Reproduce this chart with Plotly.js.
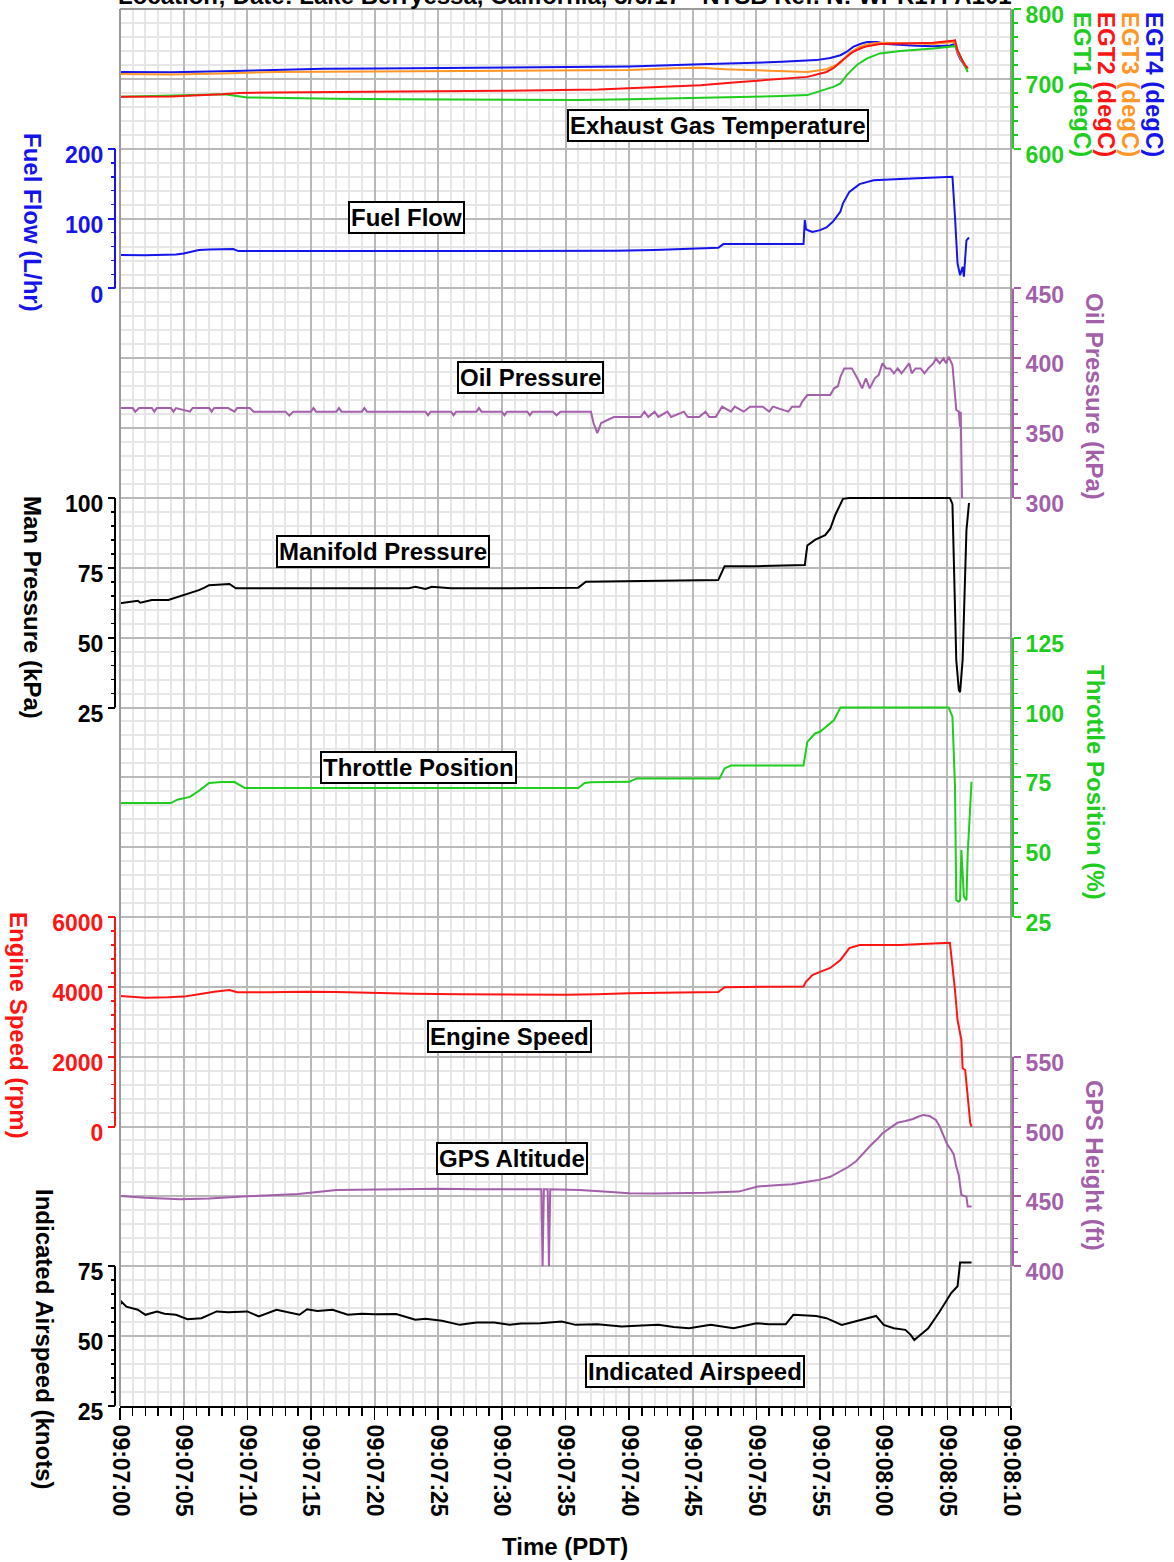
<!DOCTYPE html>
<html>
<head>
<meta charset="utf-8">
<script src="https://cdn.plot.ly/plotly-3.0.1.min.js"></script>
<style>html,body{margin:0;padding:0;background:#fff;}#chart{width:1174px;height:1562px;}</style>
</head>
<body>
<div id="chart"></div>
<script>
// ---------------- DATA (time in seconds after 09:07:00 PDT) ----------------
const timeTickLabels = ["09:07:00","09:07:05","09:07:10","09:07:15","09:07:20","09:07:25","09:07:30","09:07:35","09:07:40","09:07:45","09:07:50","09:07:55","09:08:00","09:08:05","09:08:10"];

const egt4T = [0,4,8,12,16,20,25,30,35,40,45.6,49,52,54.7,55.8,56.6,57.1,57.6,58.2,58.7,59.5,60.2,61.3,62.6,63.9,65.2,65.6,65.8,66.0,66.2,66.4,66.6];
const egt4V = [710,709.5,711,713,714.5,715,715.5,716,717,718,721,722.5,724.5,727,730,734,739,746,750.5,752.8,753,750,748.5,747.5,747,748,750,737,729,723,718,714];

const egt3T = [0,4,8,12,16,20,25,30,35,40,43.5,45.6,47.5,49.5,52,54,55.5,56.6,57.3,58.1,58.6,59.2,60.2,61.5,62.6,63.9,65.4,65.6,65.8,66.0,66.2,66.4,66.6];
const egt3V = [707,706.5,708,710,710.5,711,711,711.5,712,712.7,715.5,716,714,712.7,711,710,714,722.7,737,746,749,751,751.8,751.5,751,750,752.8,752,738,730,724,719,714];

const egt2T = [0,4,8,9.4,12,16,20,25.8,30,37.6,42,45.6,48.2,50.8,54,55.5,56.1,56.6,57.1,57.6,58.2,58.7,59.7,61.3,63.9,65.4,65.6,65.8,66.0,66.2,66.4,66.6];
const egt2V = [674.4,675,678,680,680.5,681,681,681.6,683,685,688,691,695,698.4,703,710,716,724.6,732,739,744,747,750,751,751.8,754.6,755.6,741,732,725.6,720,715.5];

const egt1T = [0,3,7,8.2,10,13,17,22,27,31.7,36,40,43.5,46,49.4,52,54,55.5,56.1,56.6,57.1,57.5,57.9,58.3,58.7,59.7,61.3,63.9,65.4,65.6,65.8,66.0,66.3,66.6];
const egt1V = [674.4,675.5,678,678,673.6,672.5,671.6,671,670.5,669.7,670,671,672,673,674.4,675.5,676.9,685,689,693.6,705.5,713,720,725,729.4,736.6,740,743.7,746,747,741,734,722,710];

const fuelT = [0,2,4.4,5,6.2,7,8.9,9.3,12,15,18,21,24,27,30,33,36,39,42,45,46.5,47,47.4,49,51,53.7,53.8,53.9,54.1,54.4,55,55.5,56,56.6,56.8,57.3,58.1,59.2,61.3,63.9,65.4,65.6,65.8,66.0,66.2,66.3,66.5,66.7];
const fuelV = [47.8,47.5,48.5,50,55,56,56.4,53.5,53.5,53.8,53.5,53.5,53.8,53.5,53.5,53.5,53.5,54,55,56.5,58.3,58.3,63.6,63.6,63.8,63.6,98,84.6,83,81,83.6,87.5,95.5,110,122,138.4,149.5,155,156.6,158.5,160,102.7,36,19,31,17,69,73];

const oilT = [0,1,1.2,1.5,2.5,2.7,2.9,4,4.2,4.4,5.5,5.7,7,7.2,7.4,8.5,9,9.2,10.2,10.5,13,13.3,13.6,15,15.2,15.4,17,17.2,17.4,19,19.2,19.4,22,24,24.2,24.4,26,26.2,26.4,28,28.2,28.4,30,30.2,30.4,32,32.2,32.4,34,34.3,34.6,36.1,37,37.2,37.5,37.8,38.8,40.9,41.2,41.5,42,42.3,43,43.3,44.3,44.6,45.5,46,46.3,46.8,47.3,48,48.3,49,49.5,50.5,51,51.3,52.5,52.8,53.4,53.6,54,55.8,56.1,56.4,56.6,56.9,57.5,58,58.3,58.6,58.9,59.3,59.6,59.9,60.2,60.5,60.8,61.1,61.4,61.7,62.0,62.2,62.5,62.9,63.2,63.5,63.9,64.1,64.4,64.7,64.9,65.1,65.4,65.7,65.9,66.0,66.05,66.15];
const oilV = [364.4,364.4,361.8,364.4,364.4,361.8,364.4,364.4,361.8,364.4,361.8,364.4,364.4,361.8,364.4,364.4,361.8,364.4,364.4,361.8,361.8,359,361.8,361.8,364.4,361.8,361.8,364.4,361.8,361.8,364.4,361.8,361.8,361.8,359.2,361.8,361.8,359.2,361.8,361.8,364.4,361.8,361.8,359.2,361.8,361.8,359.2,361.8,361.8,359.2,361.8,361.8,361.8,353.7,346.5,353.7,358,358,361.8,358,361.8,358,361.8,358,361.8,358,358,361.8,358,358,365.4,361.8,365.4,361.8,365.4,365.4,361.8,365.4,361.8,365.4,365.4,369,373.7,373.7,378.5,380,386.8,392.8,392.8,384.5,378.5,385.7,378.5,385.7,388,396.4,392.8,392.8,389.3,392.8,389.3,392.8,396.4,389.3,392.8,392.8,389.3,392.8,396.4,400,396.4,400,396.4,401.1,395.2,363,361.8,351,361.8,300];

const mapT = [0,1.4,1.6,2.5,3.8,4.5,5,5.6,6.2,6.6,7,8.6,9.1,12,15,18,21,22.7,23.2,24,24.5,25.5,26,30,33,36,36.6,40,44,47,47.5,50,53.7,53.8,54.0,54.6,55.4,55.8,56.2,56.8,57.3,60,63,65.2,65.4,65.6,65.7,65.9,66.0,66.2,66.4,66.5,66.7];
const mapV = [62.3,63.2,62.5,63.5,63.5,64.5,65.3,66,67,67.8,68.8,69.2,67.7,67.7,67.7,67.7,67.7,67.7,68.2,67.4,68.2,67.7,67.7,67.7,67.7,67.9,70,70.3,70.5,70.6,75.6,75.6,75.8,76,83,85,86.7,89,94,99.7,100,100,100,100,97.9,63.5,42,31.3,30.5,42,70.6,88.5,98.2];

const throttleT = [0,4,4.5,5.5,6.3,7,8,9,9.8,12,20,30,36,36.5,37,40,40.6,44,47.1,47.5,48,50,53.7,54.0,54.6,55,55.5,56.1,56.6,60,65.1,65.4,65.6,65.7,65.9,66.0,66.1,66.3,66.5,66.6,66.9];
const throttleV = [65.8,65.8,67,68,70.5,73,73.3,73.3,71.2,71.2,71.2,71.2,71.2,73,73.2,73.4,74.6,74.6,74.6,78.2,79.2,79.2,79.2,87.7,90.7,91.3,93.1,95.5,100,100,100,96.7,71.6,31,30.5,31,49,32.3,31,47.8,73.4];

const rpmT = [0,1,2,3.8,5,6.2,7.4,8.6,9.2,11.6,14.6,17,20.6,23,26.7,30,32.7,35,37.5,40,44,47,47.5,50,53.7,53.9,54.4,55,55.8,56.6,57.3,58.1,61.3,63,65.2,65.6,65.8,66.1,66.2,66.4,66.8,66.9];
const rpmV = [3739,3720,3690,3700,3720,3787,3862,3910,3845,3845,3862,3850,3815,3800,3787,3780,3770,3775,3790,3820,3840,3850,3990,4000,4010,4150,4340,4430,4540,4770,5110,5200,5200,5230,5260,3910,3050,2480,1669,1620,94,0];

const gpsT = [0,2,4.7,7,10,14,17,19.6,22,25,28,31,33.1,33.2,33.3,33.6,33.7,33.8,36.1,38,40,42,44.5,46,48.6,50.1,51.5,52.8,54,54.9,55.8,56.6,57.2,57.8,58.4,59,59.5,59.9,60.5,61.1,61.7,62.3,62.7,63.1,63.6,64.1,64.4,64.7,65.0,65.3,65.5,65.7,65.9,66.1,66.5,66.6,66.9];
const gpsV = [450.3,449,448,448.5,450,451.7,454.6,455,455,455.5,455,455,455,400,455,455,400,455,454.6,453.5,452.2,452,452.2,452.5,453.4,457,458,458.7,460.5,461.8,464,467.7,471,474.9,481,486.8,491,495.2,499,502.8,504,505.4,507,508.3,507.5,504.7,500,492.8,487,483.2,480,471.3,465,451,449.8,442.7,442.7];

const iasT = [0,0.1,0.5,1.4,2,2.9,3.5,4.4,5.3,6.4,7.6,8.5,10,10.9,12.3,13.2,14.1,14.7,15.5,16.7,17.9,19,20,21.7,23.2,24,25.3,26.7,28,29.4,30.6,31.5,33,34.7,35.8,37.5,39.4,41,42.3,43.5,44.7,46.4,48.2,50,51,52.3,52.9,54.7,55.5,56.7,58.2,59.4,60,60.8,61.7,62.1,62.4,63.5,64.4,65.3,65.8,65.9,66.0,66.9];
const iasV = [61,62.3,60.5,59.4,57.6,58.8,58,57.6,56,56.4,58.8,58.5,58.8,57,59.4,58.5,57.6,59.6,59,59.4,57.6,58,57.8,57.9,55.8,56.2,55.5,54,54.8,54.8,54,54.5,54.6,55.2,54,54.2,53.4,53.8,54,53.2,52.8,54,52.8,54.6,54.2,54.2,57.6,57.2,56.4,54,55.8,57.2,54,52.8,52.2,50.5,48.6,52.8,58.8,65.4,67.8,72,76.3,76.3];

// axis tick values
const egtTicks = [600,700,800];
const fuelTicks = [0,100,200];
const oilTicks = [300,350,400,450];
const mapTicks = [25,50,75,100];
const throttleTicks = [25,50,75,100,125];
const rpmTicks = [0,2000,4000,6000];
const gpsTicks = [400,450,500,550];
const iasTicks = [25,50,75];

// ---------------- LAYOUT GEOMETRY ----------------
const W = 1174, H = 1562;
const ML = 60, MR = 60, MT = 9, MB = 156;
const PW = W - ML - MR, PH = H - MT - MB;
const NMAJ = 20;      // plot height in major grid units
const EPS = 0.002;    // tiny range padding so edge ticks are kept
const px2X = px => (px - ML) / PW;
const px2Y = py => (H - MB - py) / PH;
const plotL = 120, plotR = 1011;
const axL = px2X(115), axR = px2X(1013);

const FONT = "Liberation Sans, Arial, Helvetica, sans-serif";
const C = {
  blue: 'rgb(20,20,235)', orange: 'rgb(255,150,40)', red: 'rgb(255,20,20)',
  green: 'rgb(30,205,30)', purple: 'rgb(163,95,170)', black: 'rgb(0,0,0)'
};

function makeAxis(side, color, ticks, k) {
  const step = ticks[1] - ticks[0];
  const a = ticks[0];
  const minor = [];
  for (let i = 0; i < ticks.length - 1; i++) {
    for (let j = 1; j < 5; j++) minor.push(ticks[i] + step * j / 5);
  }
  return {
    overlaying: 'y', anchor: 'free', position: side === 'left' ? axL : axR, side: side,
    range: [a - (k + EPS) * step, a + (NMAJ - k + EPS) * step],
    tickmode: 'array', tickvals: ticks,
    ticks: 'outside', ticklen: 7, tickwidth: 2, tickcolor: color,
    tickfont: {family: FONT, size: 23, color: color, weight: 'bold'},
    ticklabelshift: 6, ticklabeloverflow: 'allow',
    showgrid: false, zeroline: false, showline: false,
    minor: {tickmode: 'array', tickvals: minor, ticks: 'outside', ticklen: 4, tickwidth: 1.5, tickcolor: color, showgrid: false},
    fixedrange: true
  };
}

const axisDefs = [
  {id: 'y2', side: 'right', color: C.green, ticks: egtTicks, k: 18},
  {id: 'y3', side: 'left', color: C.blue, ticks: fuelTicks, k: 16},
  {id: 'y4', side: 'right', color: C.purple, ticks: oilTicks, k: 13},
  {id: 'y5', side: 'left', color: C.black, ticks: mapTicks, k: 10},
  {id: 'y6', side: 'right', color: C.green, ticks: throttleTicks, k: 7},
  {id: 'y7', side: 'left', color: C.red, ticks: rpmTicks, k: 4},
  {id: 'y8', side: 'right', color: C.purple, ticks: gpsTicks, k: 2},
  {id: 'y9', side: 'left', color: C.black, ticks: iasTicks, k: 0}
];

const layout = {
  width: W, height: H,
  margin: {l: ML, r: MR, t: MT, b: MB, pad: 0},
  paper_bgcolor: '#fff', plot_bgcolor: '#fff',
  showlegend: false,
  font: {family: FONT, color: '#000'},
  xaxis: {
    domain: [px2X(plotL), px2X(plotR)],
    range: [0, 70],
    tickmode: 'array', tickvals: timeTickLabels.map((_, i) => i * 5), ticktext: timeTickLabels,
    tickangle: 90,
    tickfont: {family: FONT, size: 23, color: '#000', weight: 'bold'},
    ticks: 'outside', ticklen: 12, tickwidth: 1.5, tickcolor: '#000',
    showgrid: true, gridcolor: '#b9b9b9', gridwidth: 2,
    minor: {dtick: 1, tick0: 0, ticks: 'outside', ticklen: 8, tickwidth: 1.5, tickcolor: '#000', showgrid: true, gridcolor: '#e6e6e6', gridwidth: 2},
    showline: true, linecolor: '#000', linewidth: 2,
    zeroline: false, fixedrange: true, ticklabeloverflow: 'allow'
  },
  yaxis: {
    domain: [0, 1], range: [-EPS, NMAJ + EPS],
    tickmode: 'linear', dtick: 1, tick0: 0,
    showticklabels: false, ticks: '',
    showgrid: true, gridcolor: '#b9b9b9', gridwidth: 2,
    minor: {dtick: 0.2, tick0: 0, showgrid: true, gridcolor: '#e6e6e6', gridwidth: 2, ticks: ''},
    zeroline: false, showline: false, fixedrange: true
  },
  shapes: [],
  annotations: []
};

axisDefs.forEach(d => {
  const key = 'yaxis' + d.id.slice(1);
  layout[key] = makeAxis(d.side, d.color, d.ticks, d.k);
  layout.shapes.push({
    type: 'line', xref: 'paper', yref: d.id,
    x0: d.side === 'left' ? axL : axR, x1: d.side === 'left' ? axL : axR,
    y0: d.ticks[0], y1: d.ticks[d.ticks.length - 1],
    line: {color: d.color, width: 2}
  });
});

// plot frame (grey) on left, top, right
layout.shapes.push({type: 'line', xref: 'paper', yref: 'paper', x0: px2X(plotL), x1: px2X(plotL), y0: 0, y1: 1, line: {color: '#9a9a9a', width: 2}});
layout.shapes.push({type: 'line', xref: 'paper', yref: 'paper', x0: px2X(plotR), x1: px2X(plotR), y0: 0, y1: 1, line: {color: '#9a9a9a', width: 2}});
layout.shapes.push({type: 'line', xref: 'paper', yref: 'paper', x0: px2X(plotL), x1: px2X(plotR), y0: 1, y1: 1, line: {color: '#9a9a9a', width: 2}});

function note(text, cx, cy, color, opts) {
  return Object.assign({
    text: text, xref: 'paper', yref: 'paper', x: px2X(cx), y: px2Y(cy),
    xanchor: 'center', yanchor: 'middle', showarrow: false,
    font: {family: FONT, size: 24, color: color, weight: 'bold'}
  }, opts || {});
}
function box(text, cx, cy) {
  return note(text, cx, cy, '#000', {bgcolor: '#fff', bordercolor: '#000', borderwidth: 2, borderpad: 1});
}
function vtitle(text, cx, cy, color) {
  return note(text, cx, cy, color, {textangle: 90});
}

layout.annotations.push(
  note('Location; Date: Lake Berryessa, California, 5/6/17 - NTSB Ref. N: WPR17FA101', 565, -4, '#000'),
  box('Exhaust Gas Temperature', 718, 126),
  box('Fuel Flow', 406, 217),
  box('Oil Pressure', 530, 377),
  box('Manifold Pressure', 383, 551),
  box('Throttle Position', 418, 767),
  box('Engine Speed', 509, 1036),
  box('GPS Altitude', 512, 1158),
  box('Indicated Airspeed', 695, 1371),
  vtitle('Fuel Flow (L/hr)', 33, 222, C.blue),
  vtitle('Man Pressure (kPa)', 33, 607, C.black),
  vtitle('Engine Speed (rpm)', 19, 1025, C.red),
  vtitle('Indicated Airspeed (knots)', 45, 1339, C.black),
  vtitle('Oil Pressure (kPa)', 1095, 396, C.purple),
  vtitle('Throttle Position (%)', 1095, 782, C.green),
  vtitle('GPS Height (ft)', 1095, 1165, C.purple),
  vtitle('EGT1 (degC)', 1083, 84, C.green),
  vtitle('EGT2 (degC)', 1107, 84, C.red),
  vtitle('EGT3 (degC)', 1131, 84, C.orange),
  vtitle('EGT4 (degC)', 1155, 84, C.blue),
  note('Time (PDT)', 565, 1546, '#000')
);

function line(t, v, ax, color) {
  return {x: t, y: v, xaxis: 'x', yaxis: ax, type: 'scatter', mode: 'lines',
    line: {color: color, width: 2}, hoverinfo: 'skip'};
}

const data = [
  {x: [], y: [], xaxis: 'x', yaxis: 'y', type: 'scatter', mode: 'lines', hoverinfo: 'skip'},
  line(egt4T, egt4V, 'y2', C.blue),
  line(egt3T, egt3V, 'y2', C.orange),
  line(egt1T, egt1V, 'y2', C.green),
  line(egt2T, egt2V, 'y2', C.red),
  line(fuelT, fuelV, 'y3', C.blue),
  line(oilT, oilV, 'y4', C.purple),
  line(mapT, mapV, 'y5', C.black),
  line(throttleT, throttleV, 'y6', C.green),
  line(rpmT, rpmV, 'y7', C.red),
  line(gpsT, gpsV, 'y8', C.purple),
  line(iasT, iasV, 'y9', C.black)
];

Plotly.newPlot('chart', data, layout, {staticPlot: true, displayModeBar: false});
</script>
</body>
</html>
